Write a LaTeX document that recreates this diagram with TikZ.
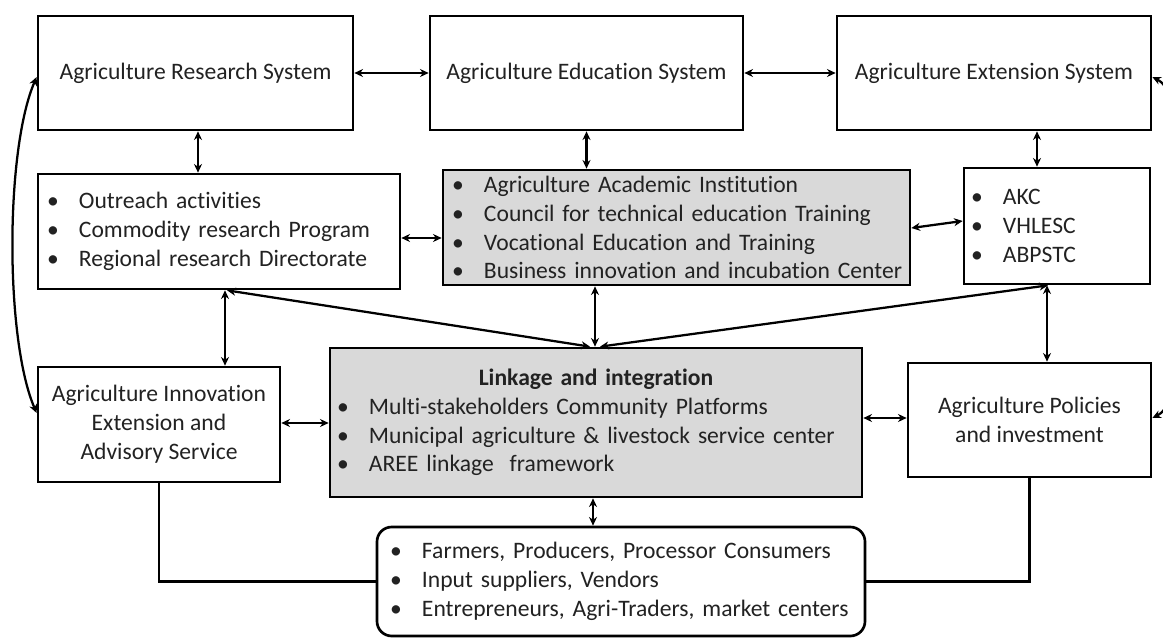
\documentclass[tikz,border=0pt]{standalone}
\usepackage{fontspec}
\setmainfont{Carlito}[Ligatures={NoCommon}]
\usetikzlibrary{arrows.meta}
\definecolor{boxgray}{HTML}{D9D9D9}
\definecolor{ink}{HTML}{222222}
% one bullet line of a list box
\newcommand\itm[1]{\mbox{\makebox[24pt][l]{\textbullet}#1}}

\begin{document}
\begin{tikzpicture}[x=0.75pt,y=-0.75pt,
  every node/.style={font=\fontsize{17.7pt}{21.6pt}\selectfont, text=ink},
  sysbox/.style={draw, line width=2pt, fill=white, inner sep=0pt, align=center},
  listbox/.style={sysbox, align=left},
  link/.style={line width=1.7pt, {Stealth[length=6.5pt,width=6pt]}-{Stealth[length=6.5pt,width=6pt]}},
  plain/.style={line width=1.7pt}]

\useasboundingbox (0,0) rectangle (1163,641);

% top row: the three systems
\node[sysbox, minimum width=236.25pt, minimum height=85.5pt] (ars) at (195.5,73) {Agriculture Research System};
\node[sysbox, minimum width=234.75pt, minimum height=85.5pt] (aes) at (586.5,73) {Agriculture Education System};
\node[sysbox, minimum width=235.5pt, minimum height=85.5pt] (aexs) at (994,73) {Agriculture Extension System};

% second row: components of each system
\node[listbox, minimum width=271.5pt, minimum height=86.25pt, inner xsep=6.75pt, text width=258pt] (outreach) at (219,231.5)
  {\itm{Outreach activities}\\ \itm{Commodity research Program}\\ \itm{Regional research Directorate}};
\node[listbox, fill=boxgray, minimum width=350.25pt, minimum height=86.25pt, inner xsep=6.75pt, text width=336.75pt] (academic) at (676.5,227.5)
  {\itm{Agriculture Academic Institution}\\ \itm{Council for technical education Training}\\ \itm{Vocational Education and Training}\\ \itm{Business innovation and incubation Center}};
\node[listbox, minimum width=139.5pt, minimum height=87pt, inner xsep=5.25pt, text width=129pt] (akc) at (1057,226)
  {\itm{AKC}\\ \itm{VHLESC}\\ \itm{ABPSTC}};

% third row
\node[sysbox, minimum width=181.5pt, minimum height=86.25pt, font=\fontsize{17.7pt}{21.75pt}\selectfont] (aieas) at (159,424.5)
  {Agriculture Innovation\\ Extension and\\ Advisory Service};
\node[listbox, fill=boxgray, minimum width=399pt, minimum height=111.75pt, inner xsep=5.25pt, text width=388.5pt] (linkage) at (596,422.5)
  {\makebox[388.5pt]{\bfseries Linkage and integration}\\ \itm{Multi-stakeholders Community Platforms}\\ \itm{Municipal agriculture \& livestock service center}\\ \itm{AREE linkage\ \ framework}};
\node[sysbox, minimum width=182.25pt, minimum height=85.5pt] (policies) at (1029.5,420)
  {Agriculture Policies\\ and investment};

% bottom: actors on the ground
\node[listbox, rounded corners=11pt, minimum width=366pt, minimum height=81.75pt, inner xsep=9.75pt, text width=346.5pt] (actors) at (621,581.5)
  {\itm{Farmers, Producers, Processor Consumers}\\ \itm{Input suppliers, Vendors}\\ \itm{Entrepreneurs, Agri-Traders, market centers}};

% links between the systems
\draw[link] (ars.east) -- (aes.west);
\draw[link] (aes.east) -- (aexs.west);
\draw[link] (198,0 |- ars.south) -- (198,0 |- outreach.north);
\draw[link] (aes.south) -- (aes.south |- academic.north);
\draw[link] (1037,0 |- aexs.south) -- (1037,0 |- akc.north);
\draw[link] (outreach.east |- 0,238) -- (academic.west |- 0,238);
\draw[link] (academic.east |- 0,228) -- (akc.west |- 0,221);

% links down to the third row
\draw[link] (225,0 |- outreach.south) -- (225,0 |- aieas.north);
\draw[link] (1047,0 |- akc.south) -- (1047,0 |- policies.north);
\draw[link] (227,0 |- outreach.south) -- (590,0 |- linkage.north);
\draw[link] (1048,0 |- akc.south) -- (600,0 |- linkage.north);
\draw[link] (595,0 |- academic.south) -- (595,0 |- linkage.north);
\draw[link] (aieas.east |- 0,423) -- (linkage.west |- 0,423);
\draw[link] (linkage.east |- 0,418) -- (policies.west |- 0,418);
\draw[link] (593,0 |- linkage.south) -- (593,0 |- actors.north);

% plain connections to the actors
\draw[plain] (aieas.south) |- (actors.west);
\draw[plain] (policies.south) |- (actors.east);

% outer feedback curves
\draw[link] (ars.west |- 0,77) .. controls (5,150) and (5,340) .. (aieas.west |- 0,413);
\draw[link] (aexs.east |- 0,77) .. controls (1200,100) and (1200,395) .. (policies.east |- 0,418);
\end{tikzpicture}
\end{document}
